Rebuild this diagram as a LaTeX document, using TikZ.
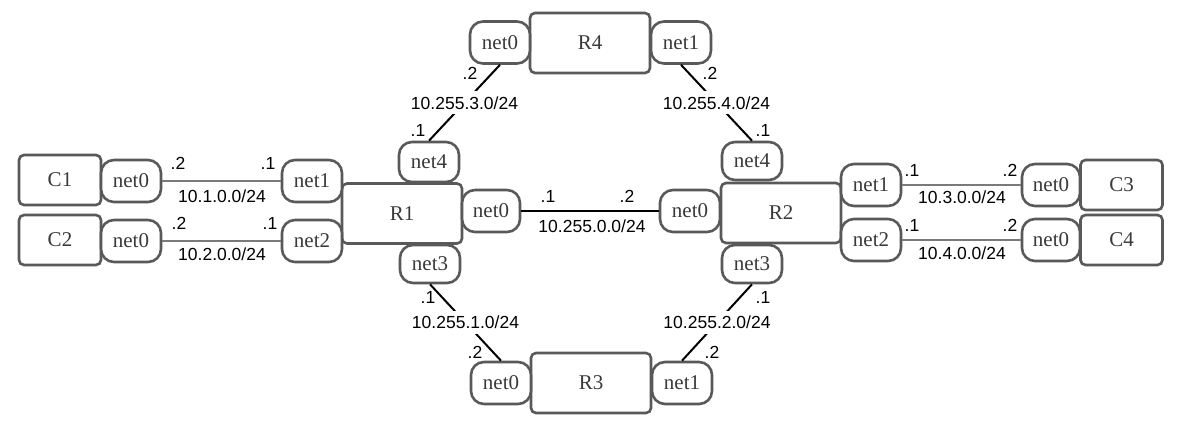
\documentclass[tikz,border=0pt]{standalone}
\usepackage{fontspec}
\setmainfont{Liberation Serif}
\setsansfont{Liberation Sans}
\definecolor{bord}{HTML}{595959}
\definecolor{txt}{HTML}{3A3A3A}
\definecolor{glink}{HTML}{7A7A7A}
\tikzset{
  dev/.style={draw=bord, line width=2.6pt, fill=white, rounded corners=5pt, inner sep=0pt,
    minimum width=120pt, minimum height=60pt, text=txt, font=\fontsize{21}{24}\selectfont},
  host/.style={dev, minimum width=82pt, minimum height=50pt},
  port/.style={draw=bord, line width=2.6pt, fill=white, rounded corners=13pt, inner sep=0pt,
    minimum width=60pt, minimum height=42pt, text=txt, font=\fontsize{21}{24}\selectfont},
  lbl/.style={font=\sffamily\fontsize{17.5}{20}\selectfont, inner sep=0pt, text=black},
  net/.style={lbl, fill=white, inner xsep=1pt, inner ysep=5pt},
  glinkst/.style={draw=glink, line width=2pt},
  blinkst/.style={draw=black, line width=2pt}
}
\begin{document}
\begin{tikzpicture}[x=1pt,y=-1pt]
\useasboundingbox (0,0) rectangle (1182,424);
% routers and hosts
\node[host] (C1) at (60,180) {C1};
\node[host] (C2) at (60,240) {C2};
\node[dev] (R1) at (402,213.5) {R1};
\node[dev] (R2) at (781,213) {R2};
\node[host] (C3) at (1121.5,185) {C3};
\node[host] (C4) at (1121.5,240) {C4};
\node[dev] (R4) at (590,43) {R4};
\node[dev] (R3) at (591,383) {R3};
% ports
\node[port] (C1n0) at (131,181) {net0};
\node[port] (C2n0) at (131,241) {net0};
\node[port] (R1n1) at (312,181) {net1};
\node[port] (R1n2) at (312,241) {net2};
\node[port, minimum height=40pt] (R1n4) at (429,162) {net4};
\node[port, minimum height=38pt] (R1n3) at (430,264) {net3};
\node[port, minimum width=58pt] (R1n0) at (491,211) {net0};
\node[port] (R2n0) at (690,211) {net0};
\node[port, minimum height=38pt] (R2n4) at (752,161) {net4};
\node[port, minimum height=38pt] (R2n3) at (752,264) {net3};
\node[port] (R2n1) at (871,185) {net1};
\node[port] (R2n2) at (871,240) {net2};
\node[port, minimum width=58pt] (C3n0) at (1051,185) {net0};
\node[port, minimum width=58pt] (C4n0) at (1051,240) {net0};
\node[port] (R4n0) at (500,42.5) {net0};
\node[port] (R4n1) at (681,42.5) {net1};
\node[port] (R3n0) at (501,383) {net0};
\node[port] (R3n1) at (682,383) {net1};
% host links
\draw[glinkst] (C1n0) -- (R1n1);
\draw[glinkst] (C2n0) -- (R1n2);
\draw[glinkst] (R2n1) -- (C3n0);
\draw[glinkst] (R2n2) -- (C4n0);
% router links
\draw[blinkst] (R1n0) -- (R2n0);
\draw[blinkst] (R1n4.north) -- node[net]{10.255.3.0/24} (R4n0.south);
\draw[blinkst] (R2n4.north) -- node[net]{10.255.4.0/24} (R4n1.south);
\draw[blinkst] (R1n3.south) -- node[net]{10.255.1.0/24} (R3n0.north);
\draw[blinkst] (R2n3.south) -- node[net]{10.255.2.0/24} (R3n1.north);
% host link labels
\node[lbl] (l1a) at (178,163) {.2};
\node[lbl] (l1b) at (268,163) {.1};
\node[lbl] (l1c) at (222,196) {10.1.0.0/24};
\node[lbl] (l2a) at (179,223) {.2};
\node[lbl] (l2b) at (270,223) {.1};
\node[lbl] (l2c) at (222,254) {10.2.0.0/24};
\node[lbl] (l3a) at (912,170) {.1};
\node[lbl] (l3b) at (1010,170) {.2};
\node[lbl] (l3c) at (962,197) {10.3.0.0/24};
\node[lbl] (l4a) at (912,225) {.1};
\node[lbl] (l4b) at (1010,225) {.2};
\node[lbl] (l4c) at (962,253) {10.4.0.0/24};
% center
\node[lbl] (l0a) at (548,196) {.1};
\node[lbl] (l0b) at (627,196) {.2};
\node[lbl] (l0c) at (592,226) {10.255.0.0/24};
% diagonal end labels
\node[lbl] (d3a) at (470,73) {.2};
\node[lbl] (d3b) at (418,130) {.1};
\node[lbl] (d4a) at (710,73) {.2};
\node[lbl] (d4b) at (763,130) {.1};
\node[lbl] (d1a) at (428,297) {.1};
\node[lbl] (d1b) at (475,352) {.2};
\node[lbl] (d2a) at (763,297) {.1};
\node[lbl] (d2b) at (712,352) {.2};
\end{tikzpicture}
\end{document}
